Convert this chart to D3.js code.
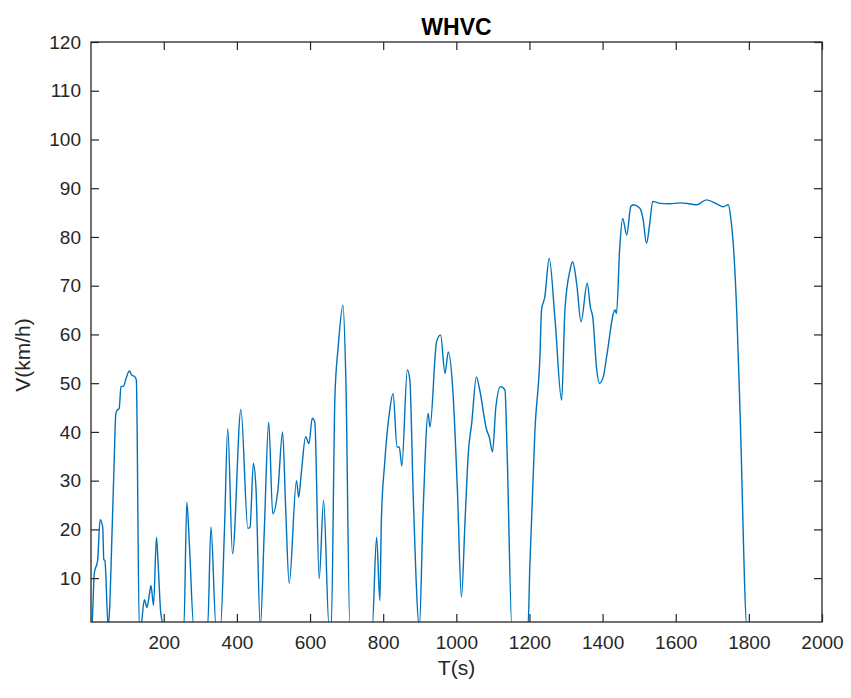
<!DOCTYPE html>
<html><head><meta charset="utf-8">
<script src="https://cdn.jsdelivr.net/npm/d3@7"></script>
<style>body{margin:0;background:#fff;} svg{display:block;}</style>
</head><body>
<svg id="c" width="851" height="698"></svg>
<script>
const times = [0,4,10,19,26,33,36,39,48,52,58,64,69,73,78,83,90,97,106,112,121,125,133,137,147,154,161,165,172,180,185,192,202,208,255,263,270,282,290,320,329,343,355,366,375,388,411,430,436,445,452,464,475,487,498,512,525,533,543,563,569,576,588,597,606,613,625,637,652,658,668,677,690,698,709,770,782,791,795,804,818,827,838,844,851,866,873,882,899,909,923,928,946,957,969,978,991,1003,1014,1024,1033,1042,1055,1064,1083,1090,1099,1108,1121,1133,1139,1152,1196,1201,1215,1229,1233,1242,1254,1270,1288,1297,1311,1318,1329,1341,1358,1367,1373,1384,1391,1402,1411,1434,1438,1447,1455,1466,1477,1484,1502,1511,1520,1529,1537,1557,1584,1611,1638,1657,1684,1712,1730,1744,1750,1759,1767,1776,1795,1800];
const speeds = [0,1,11,13.6,22,20.5,13.8,13.6,0,4,18,33,43.8,44.5,44.8,49.3,49.4,51,52.5,51.7,51.3,50.6,0,0,5.6,4,6.8,8.5,4.4,18.4,12.3,2.7,0,0,0,25.6,17,0,0,0,20.5,0,0,20,40.7,15,44.6,20.2,20.5,33.6,28.7,0,20,42,23.2,28,40,25,8.9,30,26.6,31.5,39,37.6,42.8,42,9.9,26,0,0,47.2,57.5,66,50.6,0,0,18.4,5.4,21.9,33.5,44.5,47.9,36.9,36.9,33,52.7,50.6,27.3,0,23.2,43.8,41,58.5,59.9,52,56.4,47.9,28,6.1,22,35.9,41.7,51.3,48.6,40.4,39,35.9,45,49.3,48.6,35.6,0,0,12.3,40.4,56.1,65,67.7,75.6,63,46.5,65,73.2,74.9,70.5,62.6,70.5,65.4,63.6,52.7,50,51.3,55.4,65,64.3,78,83.8,80.4,86.2,86.6,85.9,83.5,78.7,82.8,87.3,86.9,86.8,87,86.8,86.6,87.6,86.8,86.2,86.6,84.2,76.7,64.3,43.8,0,0];
const xTicks = [200,400,600,800,1000,1200,1400,1600,1800,2000];
const yTicks = [10,20,30,40,50,60,70,80,90,100,110,120];
const titleText = "WHVC", xLabel = "T(s)", yLabel = "V(km/h)";

const svg = d3.select("#c");
const L = 91, R = 822, T = 42, B = 622;
const x = d3.scaleLinear().domain([1, 2000]).range([L, R]);
const y = d3.scaleLinear().domain([1, 120]).range([B, T]);
const axisColor = "#262626";
const font = "'Liberation Sans', Arial, sans-serif";

svg.append("defs").append("clipPath").attr("id","clip")
  .append("rect").attr("x",L).attr("y",T).attr("width",R-L).attr("height",B-T);

const data = times.map((t,i)=>({t, v: speeds[i]}));
svg.append("path").datum(data)
  .attr("clip-path","url(#clip)")
  .attr("fill","none").attr("stroke","#0072BD").attr("stroke-width",1.4)
  .attr("stroke-linejoin","round")
  .attr("d", d3.line().x(d=>x(d.t)).y(d=>y(d.v)).curve(d3.curveMonotoneX));

const tl = 8;
function styleAxis(g){
  g.select(".domain").remove();
  g.selectAll(".tick line").attr("stroke",axisColor).attr("stroke-width",1.2);
  g.selectAll(".tick text").attr("fill",axisColor).style("font-family",font).style("font-size","19px");
}
svg.append("g").attr("transform",`translate(0,${B})`)
  .call(d3.axisBottom(x).tickValues(xTicks).tickSize(-tl).tickPadding(14).tickFormat(d3.format("d")))
  .call(styleAxis);
svg.append("g").attr("transform",`translate(0,${T})`)
  .call(d3.axisTop(x).tickValues(xTicks).tickSize(-tl).tickFormat(""))
  .call(styleAxis);
svg.append("g").attr("transform",`translate(${L},0)`)
  .call(d3.axisLeft(y).tickValues(yTicks).tickSize(-tl).tickPadding(10).tickFormat(d3.format("d")))
  .call(styleAxis);
svg.append("g").attr("transform",`translate(${R},0)`)
  .call(d3.axisRight(y).tickValues(yTicks).tickSize(-tl).tickFormat(""))
  .call(styleAxis);

svg.append("rect").attr("x",L).attr("y",T).attr("width",R-L).attr("height",B-T)
  .attr("fill","none").attr("stroke",axisColor).attr("stroke-width",1.3);

svg.append("text").attr("x",(L+R)/2).attr("y",35).attr("text-anchor","middle")
  .style("font-family",font).style("font-size","23px").style("font-weight","bold").attr("fill","#000")
  .text(titleText);
svg.append("text").attr("x",(L+R)/2).attr("y",675).attr("text-anchor","middle")
  .style("font-family",font).style("font-size","21px").attr("fill",axisColor).text(xLabel);
svg.append("text").attr("transform",`translate(30,355) rotate(-90)`).attr("text-anchor","middle")
  .style("font-family",font).style("font-size","21px").attr("fill",axisColor).text(yLabel);
</script>
</body></html>
